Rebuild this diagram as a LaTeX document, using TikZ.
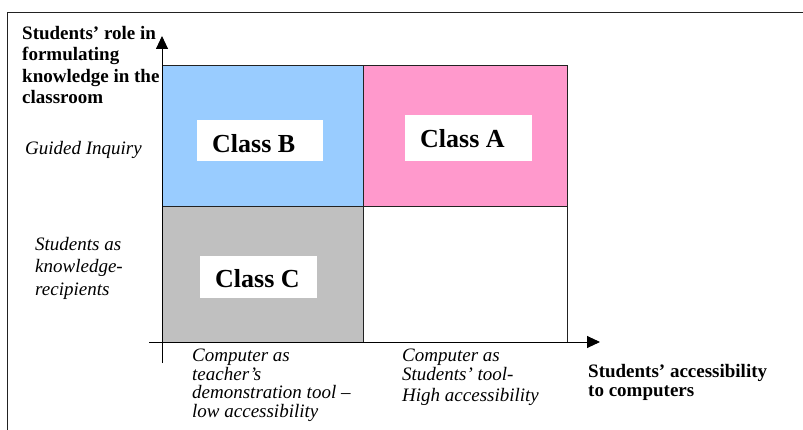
\documentclass[tikz,border=0pt]{standalone}
\usepackage{fontspec}
\setmainfont{Liberation Serif}
\usetikzlibrary{arrows.meta}
\definecolor{cblue}{HTML}{99CCFF}
\definecolor{cpink}{HTML}{FF99CC}
\definecolor{cgray}{HTML}{C0C0C0}
\definecolor{lines}{HTML}{222222}
\tikzset{
  cell/.style={draw=lines,line width=0.9pt},
  axisline/.style={draw=black,line width=0.9pt,-{Triangle[length=13pt,width=12pt]}},
  boldlbl/.style={inner sep=0pt,align=left,font=\fontsize{19}{21.5}\selectfont\bfseries},
  itlbl/.style={inner sep=0pt,align=left,font=\fontsize{19}{22.5}\selectfont\itshape},
  whitebox/.style={fill=white,draw=none,inner sep=0pt},
  classlbl/.style={inner sep=0pt,anchor=base west,font=\fontsize{26}{28}\selectfont\bfseries}
}
\begin{document}
\begin{tikzpicture}[x=1pt,y=-1pt]
\useasboundingbox (0,0) rectangle (803,430);
% frame (top and left edges)
\draw[lines,line width=1pt] (7,430) -- (7,13) -- (803,13);
% cells
\filldraw[cell,fill=cblue] (162,65) rectangle (363,206);
\filldraw[cell,fill=cpink] (363,65) rectangle (567,206);
\filldraw[cell,fill=cgray] (162,206) rectangle (363,342);
\draw[cell] (363,206) rectangle (567,342);
% white label boxes
\node[whitebox,minimum width=126pt,minimum height=41pt] (boxB) at (260,140.5) {};
\node[whitebox,minimum width=127pt,minimum height=46pt] (boxA) at (468.5,138) {};
\node[whitebox,minimum width=117pt,minimum height=42pt] (boxC) at (258.5,277) {};
\node[classlbl] (classB) at (212,153) {Class B};
\node[classlbl] (classA) at (420,148) {Class A};
\node[classlbl] (classC) at (215,288) {Class C};
% axes
\coordinate (yfoot) at (162,363);
\coordinate (ytip) at (162,36);
\coordinate (xfoot) at (149,342);
\coordinate (xtip) at (600,342);
\draw[axisline] (yfoot) -- (ytip);
\draw[axisline] (xfoot) -- (xtip);
% labels
\node[boldlbl,anchor=north west] (ylab) at (22,26) {Students’ role in\\formulating\\knowledge in the\\classroom};
\node[itlbl,anchor=base west] (guided) at (25,155) {Guided Inquiry};
\node[itlbl,anchor=north west] (recip) at (35,237) {Students as\\knowledge-\\recipients};
\node[itlbl,anchor=north west,font=\fontsize{19}{18.5}\selectfont\itshape] (demo) at (192,349) {Computer as\\teacher’s\\demonstration tool –\\low accessibility};
\node[itlbl,anchor=north west,font=\fontsize{19}{17}\selectfont\itshape] (stool) at (402,349) {Computer as\\Students’ tool-\\[4pt]High accessibility};
\node[boldlbl,anchor=north west,font=\fontsize{19}{19}\selectfont\bfseries] (xlab) at (588,364) {Students’ accessibility\\to computers};
\end{tikzpicture}
\end{document}
